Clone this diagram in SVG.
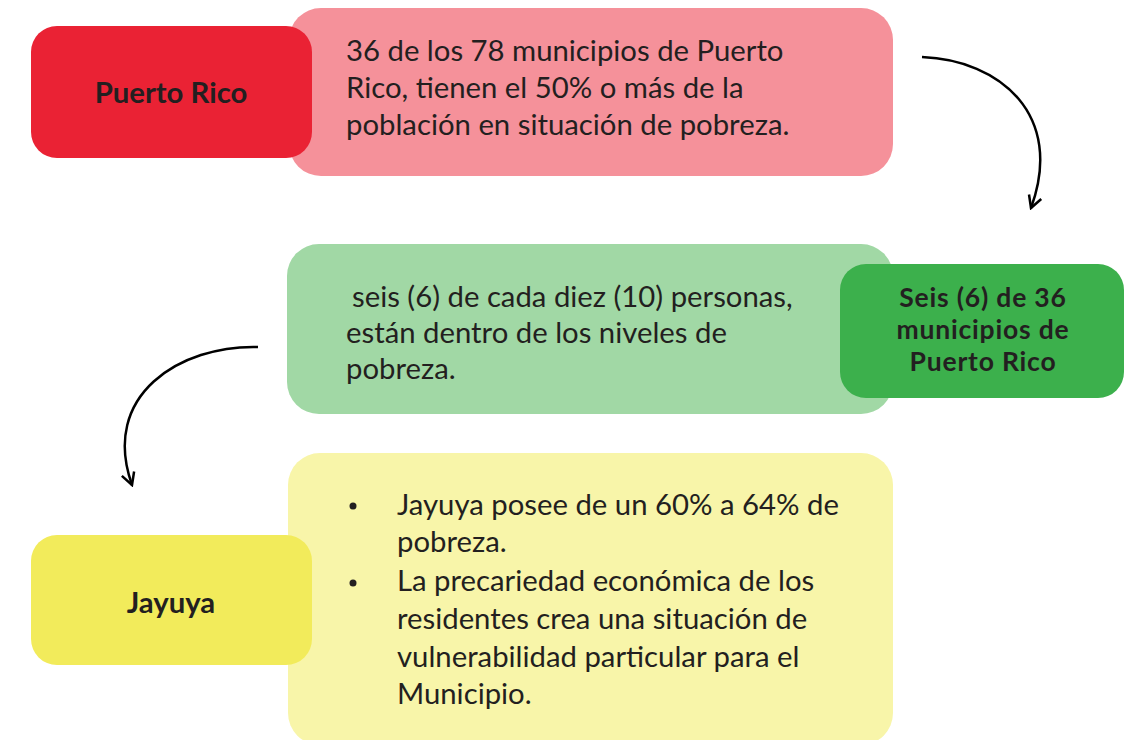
<svg xmlns="http://www.w3.org/2000/svg" width="1133" height="740" viewBox="0 0 1133 740">
<style>
text{font-family:Lato,"Open Sans","Liberation Sans",sans-serif;fill:#231F20;}
.body{font-size:29.3px;}
.lbl{font-size:29.3px;font-weight:bold;text-anchor:middle;}
.lbl2{font-size:26.5px;font-weight:bold;text-anchor:middle;letter-spacing:0.8px;}
.conn{fill:none;stroke:#000;stroke-width:2.5;}
</style>
<defs>
<marker id="arr" viewBox="0 0 16 16" refX="14" refY="8" markerWidth="16" markerHeight="16" markerUnits="userSpaceOnUse" orient="auto">
<path d="M2,1.5 L14,8 L2,14.5" fill="none" stroke="#000" stroke-width="2.5"/>
</marker>
</defs>
<rect width="1133" height="740" fill="#fff"/>
<g id="pr-detail">
<rect x="289" y="8" width="604" height="168" rx="32" fill="#F5919A"/>
<text class="body" x="346" y="61">36 de los 78 municipios de Puerto</text>
<text class="body" x="346" y="98">Rico, tienen el 50% o más de la</text>
<text class="body" x="346" y="135">población en situación de pobreza.</text>
</g>
<g id="puerto-rico">
<rect x="31" y="26" width="281" height="132" rx="26" fill="#EA2234"/>
<text class="lbl" x="171" y="103">Puerto Rico</text>
</g>
<g id="seis-detail">
<rect x="287" y="244" width="606" height="170" rx="32" fill="#A1D8A5"/>
<text class="body" x="352" y="307">seis (6) de cada diez (10) personas,</text>
<text class="body" x="346" y="343">están dentro de los niveles de</text>
<text class="body" x="346" y="379">pobreza.</text>
</g>
<g id="seis">
<rect x="840" y="264" width="284" height="134" rx="26" fill="#3CB04C"/>
<text class="lbl2" x="983" y="307">Seis (6) de 36</text>
<text class="lbl2" x="983" y="339">municipios de</text>
<text class="lbl2" x="983" y="371">Puerto Rico</text>
</g>
<g id="jayuya-detail">
<rect x="288" y="453" width="605" height="292" rx="32" fill="#F8F5A9"/>
<circle cx="353" cy="506" r="3.5" fill="#231F20"/>
<circle cx="353" cy="583" r="3.5" fill="#231F20"/>
<text class="body" x="397" y="515">Jayuya posee de un 60% a 64% de</text>
<text class="body" x="397" y="552">pobreza.</text>
<text class="body" x="397" y="591">La precariedad económica de los</text>
<text class="body" x="397" y="629">residentes crea una situación de</text>
<text class="body" x="397" y="667">vulnerabilidad particular para el</text>
<text class="body" x="397" y="704">Municipio.</text>
</g>
<g id="jayuya">
<rect x="31" y="535" width="281" height="130" rx="26" fill="#F2EB5B"/>
<text class="lbl" x="171" y="613">Jayuya</text>
</g>
<g id="connectors">
<path class="conn" d="M922,57 C1000,60 1065,115 1031,208" marker-end="url(#arr)"/>
<path class="conn" d="M258,347 C180,345 100,395 132,485" marker-end="url(#arr)"/>
</g>
</svg>
